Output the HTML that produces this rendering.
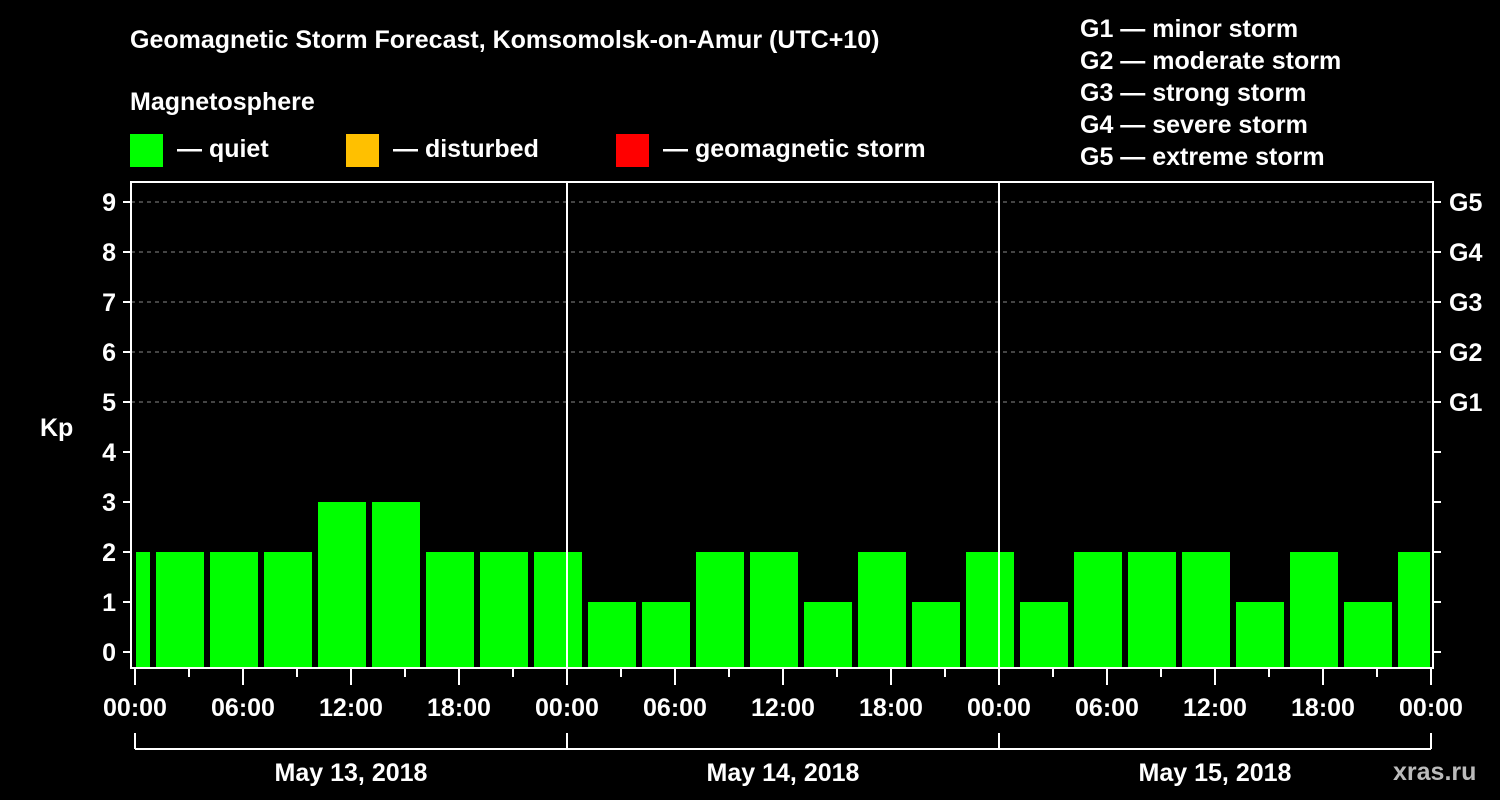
<!DOCTYPE html>
<html><head><meta charset="utf-8"><style>
html,body{margin:0;padding:0;background:#000;}
svg{display:block;font-family:"Liberation Sans",Arial,sans-serif;font-weight:bold;}
</style></head><body>
<svg id="chart" width="1500" height="800" viewBox="0 0 1500 800">
<text x="130" y="48" fill="#fff" font-size="25">Geomagnetic Storm Forecast, Komsomolsk-on-Amur (UTC+10)</text>
<text x="130" y="110" fill="#fff" font-size="25">Magnetosphere</text>
<g><rect x="130" y="134" width="33" height="33" fill="#00ff00"/><text x="177" y="157" fill="#fff" font-size="25">— quiet</text></g>
<g><rect x="346" y="134" width="33" height="33" fill="#ffc000"/><text x="393" y="157" fill="#fff" font-size="25">— disturbed</text></g>
<g><rect x="616" y="134" width="33" height="33" fill="#ff0000"/><text x="663" y="157" fill="#fff" font-size="25">— geomagnetic storm</text></g>
<g fill="#fff" font-size="25">
<text x="1080" y="37">G1 — minor storm</text>
<text x="1080" y="69">G2 — moderate storm</text>
<text x="1080" y="101">G3 — strong storm</text>
<text x="1080" y="133">G4 — severe storm</text>
<text x="1080" y="165">G5 — extreme storm</text>
</g>
<g id="grid"></g>
<g id="bars"></g>
<g id="axes"></g>
<text x="40" y="436" fill="#fff" font-size="25">Kp</text>
<text x="1393" y="780" fill="#bbb" font-size="25">xras.ru</text>
</svg>
<script>
const kpValues = [2,2,2,2,3,3,2,2,2,1,1,2,2,1,2,1,2,1,2,2,2,1,2,1,2];
const yTicks = [0,1,2,3,4,5,6,7,8,9];
const gLabels = ["G1","G2","G3","G4","G5"];
const hourLabels = ["00:00","06:00","12:00","18:00","00:00","06:00","12:00","18:00","00:00","06:00","12:00","18:00","00:00"];
const dayLabels = ["May 13, 2018","May 14, 2018","May 15, 2018"];

const NS="http://www.w3.org/2000/svg";
const L=131,R=1433,T=182,B=668,X0=135,DAY=432;
const y=v=>652-v*50;
const x=h=>X0+h*DAY/24;
function el(tag,attrs,parent,txt){const e=document.createElementNS(NS,tag);for(const k in attrs)e.setAttribute(k,attrs[k]);if(txt!==undefined)e.textContent=txt;parent.appendChild(e);return e;}
const grid=document.getElementById('grid'),bars=document.getElementById('bars'),axes=document.getElementById('axes');
for(let v=5;v<=9;v++){const g=el('line',{x1:L,x2:R,y1:y(v),y2:y(v),stroke:'#888','stroke-width':1,'stroke-dasharray':'4,4'},grid);

}
kpValues.forEach((v,i)=>{
 const c=x(i*3-0.5);let x1=c-24,x2=c+24;x1=Math.max(x1,L+5);x2=Math.min(x2,R-3);
 const col=v>=5?'#ff0000':(v>=4?'#ffc000':'#00ff00');
 const r=el('rect',{x:x1,y:y(v),width:x2-x1,height:B-1-y(v),fill:col},bars);
 
 
});
const frame=el('rect',{x:L,y:T,width:R-L,height:B-T,fill:'none',stroke:'#fff','stroke-width':2},axes);


[1,2].forEach(d=>{const s=el('line',{x1:x(24*d),x2:x(24*d),y1:T,y2:B,stroke:'#fff','stroke-width':2},axes);

});
yTicks.forEach(v=>{
 el('line',{x1:L-8,x2:L,y1:y(v),y2:y(v),stroke:'#fff','stroke-width':2},axes);
 el('line',{x1:R,x2:R+8,y1:y(v),y2:y(v),stroke:'#fff','stroke-width':2},axes);
 const t=el('text',{x:116,y:y(v)+9,fill:'#fff','font-size':25,'text-anchor':'end'},axes,String(v));
 
 
});
gLabels.forEach((g,i)=>{const t=el('text',{x:1449,y:y(5+i)+9,fill:'#fff','font-size':25},axes,g);

});
for(let h=0;h<=72;h+=3){const major=h%6===0;el('line',{x1:x(h),x2:x(h),y1:B,y2:major?B+17:B+9,stroke:'#fff','stroke-width':2},axes);}
hourLabels.forEach((s,i)=>{const t=el('text',{x:x(i*6),y:716,fill:'#fff','font-size':25,'text-anchor':'middle'},axes,s);

});
el('line',{x1:x(0),x2:x(72),y1:749,y2:749,stroke:'#fff','stroke-width':2},axes);
for(let d=0;d<=3;d++)el('line',{x1:x(24*d),x2:x(24*d),y1:733,y2:749,stroke:'#fff','stroke-width':2},axes);
dayLabels.forEach((s,i)=>{const t=el('text',{x:x(24*i+12),y:781,fill:'#fff','font-size':25,'text-anchor':'middle'},axes,s);

});
</script>
</body></html>
